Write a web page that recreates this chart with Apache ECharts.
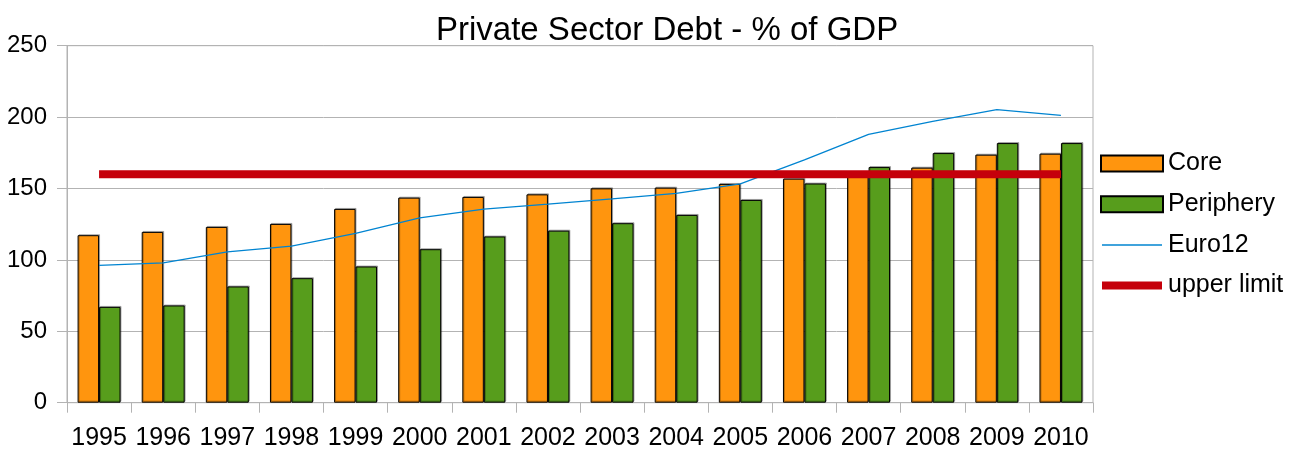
<!DOCTYPE html>
<html>
<head>
<meta charset="utf-8">
<title>Private Sector Debt - % of GDP</title>
<script src="https://cdn.jsdelivr.net/npm/echarts@6/dist/echarts.min.js"></script>
<style>
  html, body { margin: 0; padding: 0; background: #ffffff; }
  #chart { width: 1305px; height: 453px; }
</style>
</head>
<body>
<div id="chart"></div>
<script>
// Years on the category axis
const years = ['1995', '1996', '1997', '1998', '1999', '2000', '2001', '2002',
               '2003', '2004', '2005', '2006', '2007', '2008', '2009', '2010'];

// Private sector debt, % of GDP
const core = [117.3, 119.6, 123.1, 125.2, 135.7, 143.6, 144.1, 145.9,
              150.1, 150.6, 153.2, 156.9, 160.5, 164.6, 173.7, 174.4];
const periphery = [67.1, 68.1, 81.4, 87.2, 95.4, 107.5, 116.4, 120.5,
                   125.7, 131.5, 142.0, 153.5, 165.0, 174.8, 181.8, 181.8];
const euro12 = [96.1, 97.9, 105.6, 109.6, 118.5, 129.4, 135.5, 139.0,
                142.7, 146.6, 153.2, 170.0, 187.9, 197.0, 205.2, 201.2];
const upperLimit = [160, 160, 160, 160, 160, 160, 160, 160,
                    160, 160, 160, 160, 160, 160, 160, 160];

// Value axis ticks
const yTicks = { min: 0, max: 250, interval: 50 };

const FONT = 'Liberation Sans, Arial, sans-serif';
const AXIS_GREY = '#b3b3b3';

const barStyle = (color) => ({
  color: color,
  borderColor: '#000000',
  borderWidth: 1,
  shadowColor: 'rgba(0,0,0,0.28)',
  shadowBlur: 0,
  shadowOffsetX: 1,
  shadowOffsetY: -1
});

const chart = echarts.init(document.getElementById('chart'), null, { renderer: 'canvas' });

chart.setOption({
  backgroundColor: '#ffffff',
  animation: false,
  title: {
    text: 'Private Sector Debt - % of GDP',
    left: 436,
    top: 14,
    padding: 0,
    textStyle: { fontFamily: FONT, fontSize: 33, fontWeight: 'normal', color: '#000000' }
  },
  legend: {
    orient: 'vertical',
    left: 1100,
    top: 151,
    padding: 0,
    itemWidth: 62,
    itemHeight: 16,
    itemGap: 15.7,
    selectedMode: false,
    textStyle: { fontFamily: FONT, fontSize: 25, lineHeight: 24, color: '#000000' },
    data: [
      { name: 'Core', icon: 'rect' },
      { name: 'Periphery', icon: 'rect' },
      { name: 'Euro12', icon: 'path://M0,0M0,16M0,7.25H60V8.75H0Z',
        itemStyle: { color: '#0084d1', borderWidth: 0 } },
      { name: 'upper limit', icon: 'path://M0,0M0,16M0,4H60V12H0Z',
        itemStyle: { color: '#c5000b', borderWidth: 0 } }
    ]
  },
  grid: {
    left: 67,
    right: 212,
    top: 45.7,
    bottom: 50.3,
    show: true,
    borderColor: AXIS_GREY,
    borderWidth: 1
  },
  xAxis: {
    type: 'category',
    data: years,
    boundaryGap: true,
    axisLine: { show: true, lineStyle: { color: AXIS_GREY, width: 1 } },
    axisTick: { show: true, length: 10, lineStyle: { color: AXIS_GREY } },
    axisLabel: { fontFamily: FONT, fontSize: 25, color: '#000000', margin: 23, interval: 0 },
    splitLine: { show: false }
  },
  yAxis: {
    type: 'value',
    min: yTicks.min,
    max: yTicks.max,
    interval: yTicks.interval,
    axisLine: { show: true, lineStyle: { color: AXIS_GREY, width: 1 } },
    axisTick: { show: true, length: 10, lineStyle: { color: AXIS_GREY } },
    axisLabel: { fontFamily: FONT, fontSize: 24, color: '#000000', margin: 20 },
    splitLine: { show: true, lineStyle: { color: AXIS_GREY, width: 1 } }
  },
  series: [
    {
      name: 'Core',
      type: 'bar',
      data: core,
      barGap: '0%',
      barCategoryGap: '33%',
      itemStyle: barStyle('#ff950e')
    },
    {
      name: 'Periphery',
      type: 'bar',
      data: periphery,
      barGap: '0%',
      barCategoryGap: '33%',
      itemStyle: barStyle('#579d1c')
    },
    {
      name: 'Euro12',
      type: 'line',
      data: euro12,
      symbol: 'none',
      color: '#0084d1',
      lineStyle: { color: '#0084d1', width: 1.3 },
      z: 3
    },
    {
      name: 'upper limit',
      type: 'line',
      data: upperLimit,
      symbol: 'none',
      color: '#c5000b',
      lineStyle: { color: '#c5000b', width: 8, cap: 'butt' },
      z: 4
    }
  ]
});
</script>
</body>
</html>
